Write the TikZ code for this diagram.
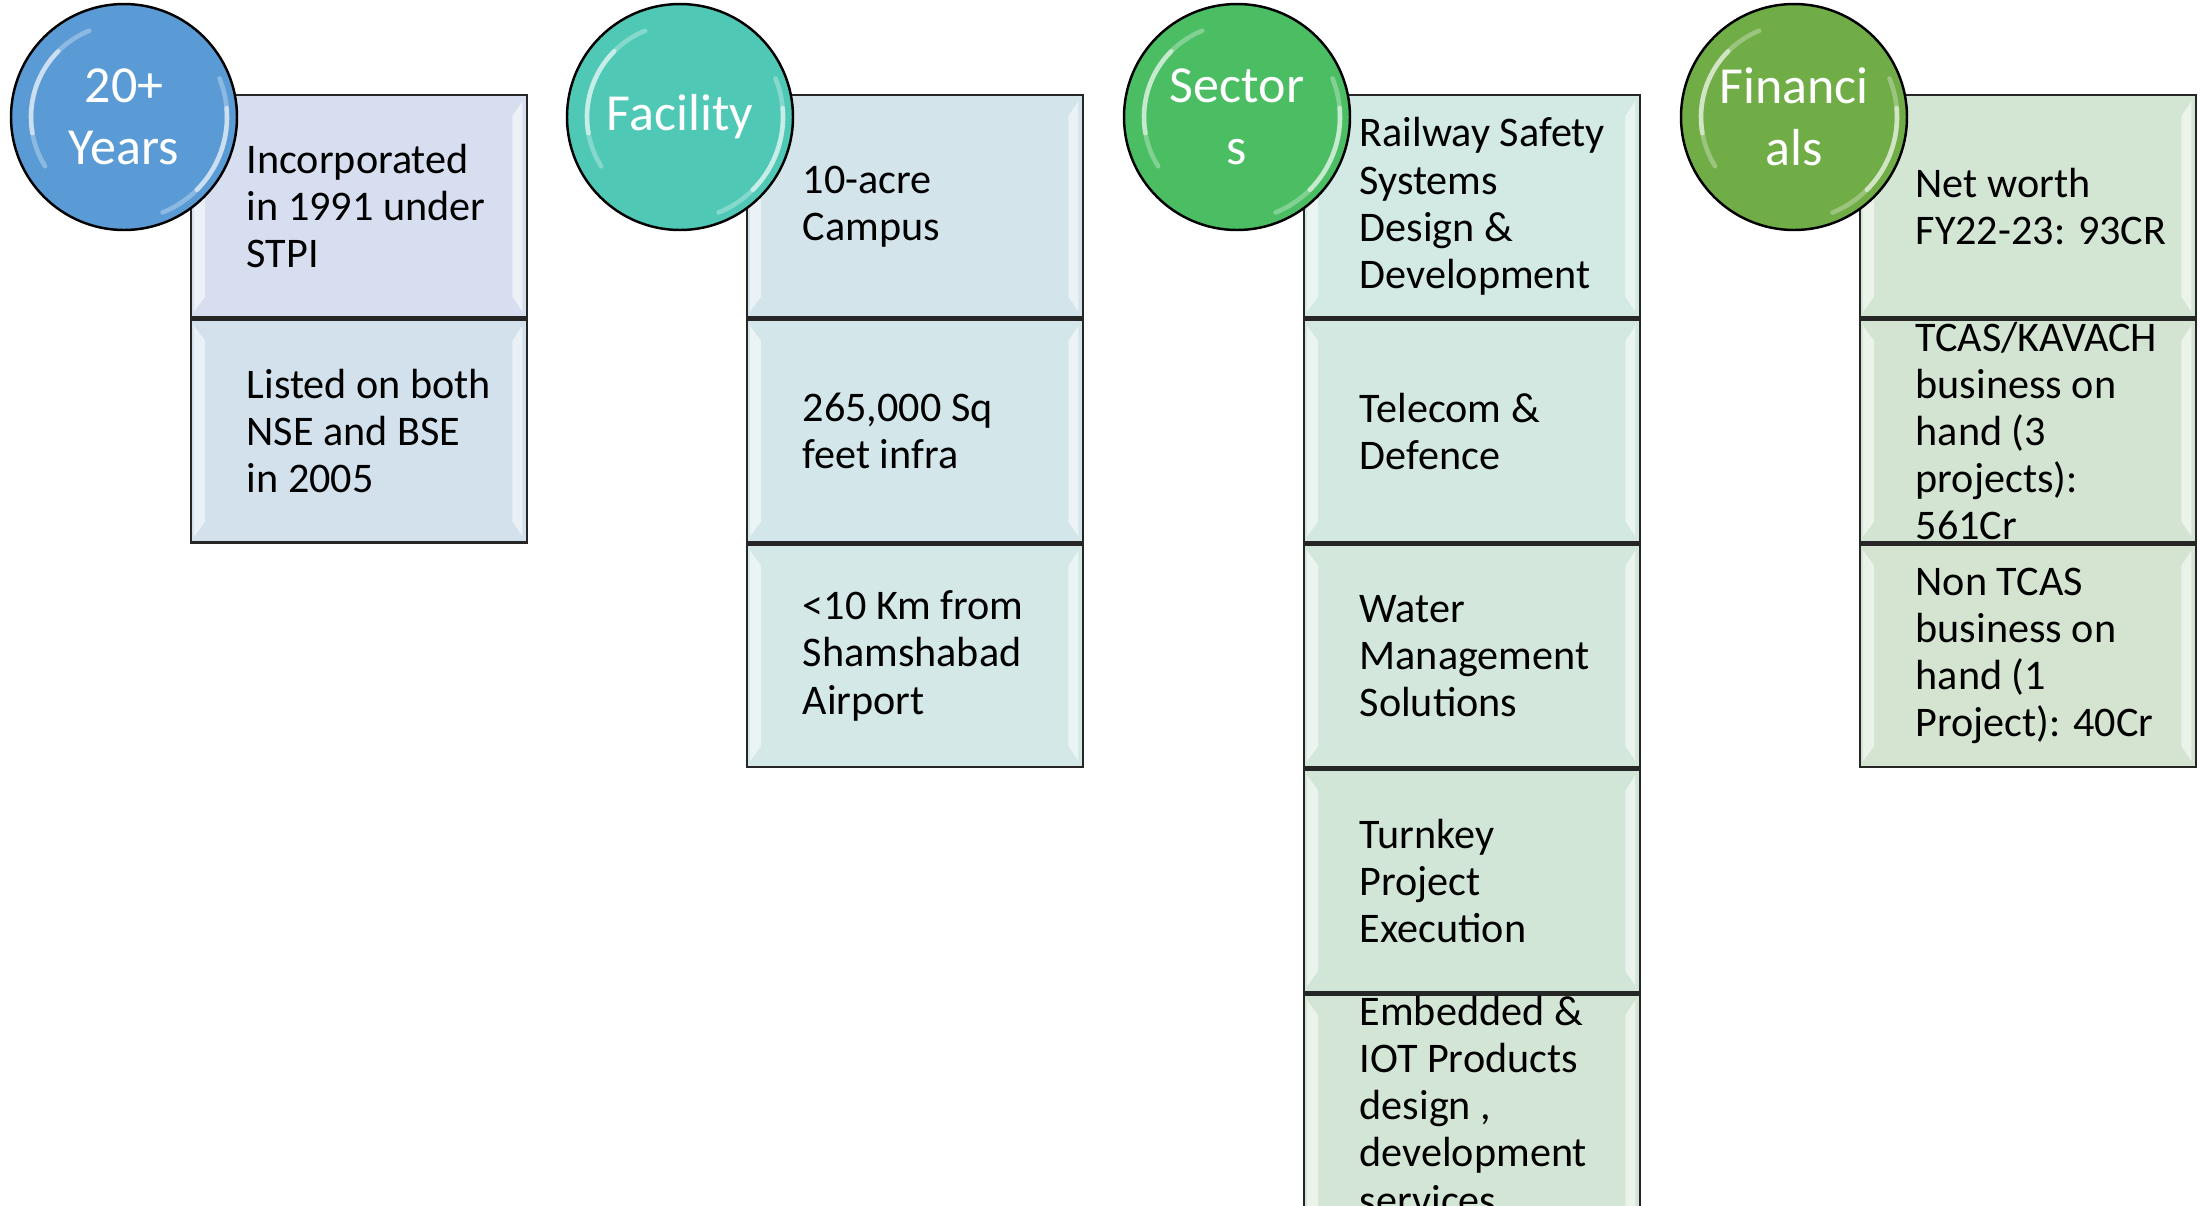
\documentclass[tikz,border=0pt]{standalone}
\usepackage{fontspec}
\setmainfont{Carlito}
\usetikzlibrary{positioning}

\definecolor{blueacc}{HTML}{5B9BD5}
\definecolor{tealacc}{HTML}{50C8B6}
\definecolor{greenacc}{HTML}{4BBE64}
\definecolor{oliveacc}{HTML}{70AD47}
\definecolor{ca1}{HTML}{D6DEEF}
\definecolor{ca2}{HTML}{D2E1EC}
\definecolor{cb1}{HTML}{D3E4EB}
\definecolor{cb2}{HTML}{D3E6EA}
\definecolor{cb3}{HTML}{D3E8E7}
\definecolor{cc1}{HTML}{D2EAE3}
\definecolor{cc2}{HTML}{D2E8E0}
\definecolor{cc3}{HTML}{D3E7DC}
\definecolor{cc4}{HTML}{D2E6D8}
\definecolor{cc5}{HTML}{D3E5D4}
\definecolor{cd1}{HTML}{D3E6D4}
\definecolor{cd2}{HTML}{D3E5D2}
\definecolor{cd3}{HTML}{D4E4D0}

\begin{document}
\begin{tikzpicture}[
	badge/.style={circle, draw=black, line width=0.7pt, minimum size=2.26cm, inner sep=0pt, text=white, align=center, font=\fontsize{14.8}{17.5}\selectfont},
	cell/.style={rectangle, draw=black!85, line width=0.7pt, minimum width=3.36cm, minimum height=2.223cm, anchor=north west, inner sep=0pt},
	txt/.style={align=left, inner sep=0pt, anchor=west, font=\fontsize{12}{13.4}\selectfont},
	shine/.style={fill=white, opacity=0.55},
	gloss/.style={white, line width=1.3pt, line cap=round}
	]
	\clip (0,0) rectangle (22.01,-12.06);

	\node (inc) at (1.90,-0.94) [cell, fill=ca1] {};
	\node (lst) [cell, fill=ca2, below=0pt of inc] {};
	\node (incT) [txt, right=0.56cm of inc.west] {Incorporated\\in 1991 under\\STPI};
	\node (lstT) [txt, right=0.56cm of lst.west] {Listed on both\\NSE and BSE\\in 2005};

	\node (camp) at (7.46,-0.94) [cell, fill=cb1] {};
	\node (infra) [cell, fill=cb2, below=0pt of camp] {};
	\node (air) [cell, fill=cb3, below=0pt of infra] {};
	\node (campT) [txt, right=0.56cm of camp.west] {10-acre\\Campus};
	\node (infraT) [txt, right=0.56cm of infra.west] {265,000 Sq\\feet infra};
	\node (airT) [txt, right=0.56cm of air.west] {\textless10 Km from\\Shamshabad\\Airport};

	\node (rail) at (13.03,-0.94) [cell, fill=cc1] {};
	\node (tel) [cell, fill=cc2, below=0pt of rail] {};
	\node (water) [cell, fill=cc3, below=0pt of tel] {};
	\node (turn) [cell, fill=cc4, below=0pt of water] {};
	\node (emb) [cell, fill=cc5, below=0pt of turn, minimum height=2.5cm] {};
	\node (railT) [txt, right=0.56cm of rail.west] {Railway Safety\\Systems\\Design \&\\Development};
	\node (telT) [txt, right=0.56cm of tel.west] {Telecom \&\\Defence};
	\node (waterT) [txt, right=0.56cm of water.west] {Water\\Management\\Solutions};
	\node (turnT) [txt, right=0.56cm of turn.west] {Turnkey\\Project\\Execution};
	\node (embT) [txt, right=0.56cm of emb.west, yshift=0.139cm] {Embedded \&\\IOT Products\\design ,\\development\\services};

	\node (nw) at (18.59,-0.94) [cell, fill=cd1] {};
	\node (tcas) [cell, fill=cd2, below=0pt of nw] {};
	\node (ntcas) [cell, fill=cd3, below=0pt of tcas] {};
	\node (nwT) [txt, right=0.56cm of nw.west] {Net worth\\FY22-23: 93CR};
	\node (tcasT) [txt, right=0.56cm of tcas.west] {TCAS/KAVACH\\business on\\hand (3\\projects):\\561Cr};
	\node (ntcasT) [txt, right=0.56cm of ntcas.west] {Non TCAS\\business on\\hand (1\\Project): 40Cr};

	\foreach \c in {inc,lst,camp,infra,air,rail,tel,water,turn,emb,nw,tcas,ntcas} {
		\fill[shine] ([shift={(0.04,-0.07)}]\c.north west) -- ([shift={(0.15,-0.22)}]\c.north west) -- ([shift={(0.15,0.22)}]\c.south west) -- ([shift={(0.04,0.07)}]\c.south west) -- cycle;
		\fill[shine] ([shift={(-0.06,-0.07)}]\c.north east) -- ([shift={(-0.16,-0.22)}]\c.north east) -- ([shift={(-0.16,0.22)}]\c.south east) -- ([shift={(-0.06,0.07)}]\c.south east) -- cycle;
	}

	\node (yrs) at (1.24,-1.17) [badge, fill=blueacc] {20+\\Years};
	\node (fac) at (6.80,-1.17) [badge, fill=tealacc] {Facility};
	\node (sec) at (12.37,-1.17) [badge, fill=greenacc] {Sector\\s};
	\node (fin) at (17.94,-1.17) [badge, fill=oliveacc] {Financi\\als};

	\foreach \b in {yrs,fac,sec,fin} {
		\draw[gloss, opacity=0.3] ([shift={(112:0.93)}]\b.center) arc[start angle=112, end angle=212, radius=0.93];
		\draw[gloss, opacity=0.55] ([shift={(135:0.93)}]\b.center) arc[start angle=135, end angle=190, radius=0.93];
		\draw[gloss, opacity=0.3] ([shift={(-68:1.03)}]\b.center) arc[start angle=-68, end angle=22, radius=1.03];
		\draw[gloss, opacity=0.55] ([shift={(-45:1.03)}]\b.center) arc[start angle=-45, end angle=5, radius=1.03];
	}
\end{tikzpicture}
\end{document}
